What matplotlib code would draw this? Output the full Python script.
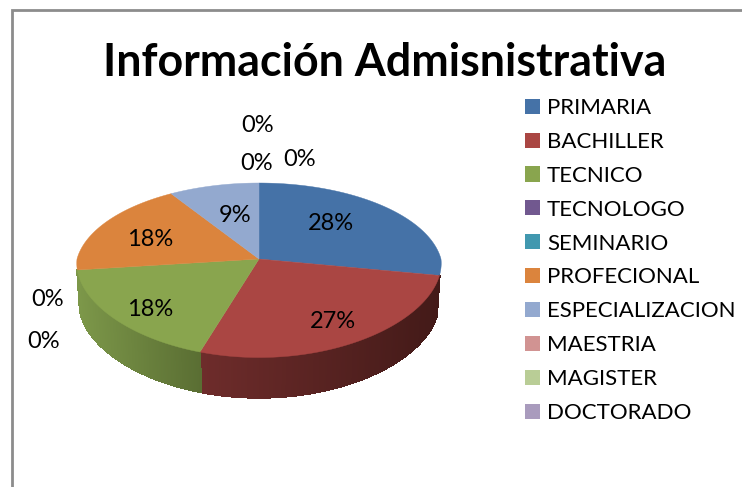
import numpy as np
import matplotlib
matplotlib.use('Agg')
import matplotlib.pyplot as plt
from matplotlib.collections import PolyCollection
from matplotlib.patches import Patch
from matplotlib.colors import to_rgb

plt.rcParams['font.family'] = ['Lato', 'DejaVu Sans']

# Values
title = 'Información Admisnistrativa'
categories = ['PRIMARIA', 'BACHILLER', 'TECNICO', 'TECNOLOGO', 'SEMINARIO',
              'PROFECIONAL', 'ESPECIALIZACION', 'MAESTRIA', 'MAGISTER', 'DOCTORADO']
values = [28, 27, 18, 0, 0, 18, 9, 0, 0, 0]
colors = ['#4572A7', '#AA4643', '#89A54E', '#71588F', '#4198AF',
          '#DB843D', '#93A9CF', '#D19392', '#B9CD96', '#A99BBD']

# Where each percentage label sits, in image pixels
label_xy = [(331, 224), (333, 322), (150, 309), (48, 300), (44, 342),
            (150, 240), (235, 215), (257, 164), (258, 125), (300, 160)]

# Side wall shading: slice index -> (shade at left end, shade at right end)
wall_shades = {1: ('#6e2c2b', '#431a18'), 2: ('#7c9749', '#5a6e33')}

cx, cy, rx = 259, 259, 182
a, k = 85.8, 0.129
depth = 40


def project(theta, shrink=1.0, drop=0):
    # theta is clockwise from twelve o'clock, tilted disc seen from above
    x = np.sin(theta)
    y = np.cos(theta)
    # far side looks narrower than the near side
    x = x / (1 + np.where(y > 0, 0.13, 0.05) * y)
    return cx + rx * shrink * x, cy - a * y / (1 + k * y) + drop


fig = plt.figure(figsize=(7.42, 4.87), dpi=100)
ax = fig.add_axes([0, 0, 1, 1])
ax.set_xlim(0, 742)
ax.set_ylim(487, 0)
ax.axis('off')

# Chart border, runs off the image on the right and bottom
ax.plot([12, 12, 742], [487, 10, 10], color='#8c8c8c', lw=2, solid_joinstyle='miter')

edges = np.cumsum([0] + values) / sum(values) * 2 * np.pi

# Side wall first, then the top face over it
for i, shade in wall_shades.items():
    t = np.linspace(edges[i], edges[i + 1], 160)
    x0, y0 = project(t)
    x1, y1 = project(t, shrink=0.985, drop=depth)
    quads = []
    fc = []
    c0, c1 = np.array(to_rgb(shade[0])), np.array(to_rgb(shade[1]))
    for j in range(len(t) - 1):
        quads.append([(x0[j], y0[j]), (x0[j + 1], y0[j + 1]), (x1[j + 1], y1[j + 1]), (x1[j], y1[j])])
        f = (x0[j] - x0.min()) / (x0.max() - x0.min())
        fc.append(c0 + (c1 - c0) * f)
    ax.add_collection(PolyCollection(quads, facecolors=fc, edgecolors=fc, linewidths=1.0, antialiaseds=False))

for i, v in enumerate(values):
    if v == 0:
        continue
    t = np.linspace(edges[i], edges[i + 1], 120)
    x, y = project(t)
    ax.fill(np.r_[cx, x], np.r_[cy, y], color=colors[i], lw=0.3)

for v, (lx, ly) in zip(values, label_xy):
    ax.text(lx, ly, f'{v}%', ha='center', va='center', fontsize=17, color='black')

ax.text(385, 63, title, ha='center', va='center', fontsize=32.2, fontweight='bold', color='black')

handles = [Patch(facecolor=c, edgecolor='none', label=n) for c, n in zip(colors, categories)]
ax.legend(handles=handles, loc='upper left', bbox_to_anchor=(525, 98), bbox_transform=ax.transData,
          frameon=False, fontsize=16, labelspacing=0.625, handlelength=0.675, handleheight=0.675,
          handletextpad=0.32, borderpad=0, borderaxespad=0)

plt.savefig('out.png', dpi=100)
